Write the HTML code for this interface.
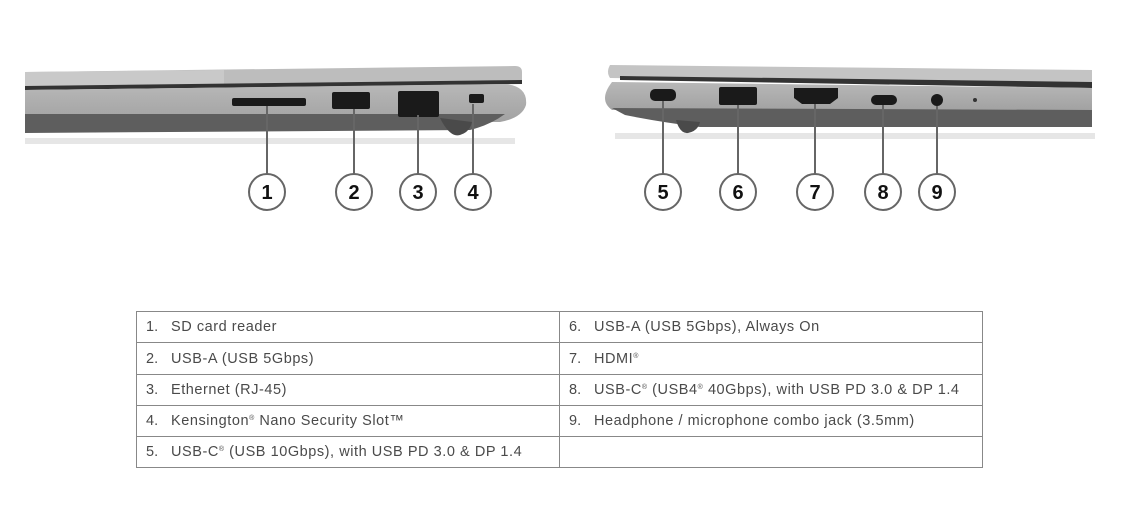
<!DOCTYPE html>
<html><head><meta charset="utf-8"><style>
body{margin:0;width:1142px;height:506px;background:#fff;position:relative;overflow:hidden;font-family:"Liberation Sans",sans-serif}
svg{position:absolute;left:0;top:0}
table{position:absolute;left:136px;top:311px;border-collapse:collapse;font-size:14.5px;color:#4a4a4a;letter-spacing:0.55px}
td{border:1px solid #888;padding:0 0 0 9px;height:30px;width:413px;white-space:nowrap}
td span{display:inline-block;width:25px;letter-spacing:0}
sup{font-size:7px;vertical-align:5px}
</style></head><body>
<svg width="1142" height="300" viewBox="0 0 1142 300">
<defs>
<linearGradient id="bodyU" x1="0" y1="0" x2="0" y2="1"><stop offset="0" stop-color="#b8b8b8"/><stop offset="1" stop-color="#a2a2a2"/></linearGradient>
</defs>
<!-- left laptop -->
<rect x="25" y="138" width="490" height="6" fill="#e6e6e6"/>
<path d="M25 72 L515 66 Q522 66 522 72 L522 80 L25 88 Z" fill="#bdbdbd"/>
<path d="M25 72 L224 70 L224 86 L25 88Z" fill="#c9c9c9"/>
<path d="M25 86 L522 80 L522 84 L25 90Z" fill="#333"/>
<path d="M25 90 L505 84 Q528 86 526 105 Q522 118 500 122 L25 122Z" fill="url(#bodyU)"/>
<path d="M25 114 L505 114 Q490 125 470 130 L25 133Z" fill="#5e5e5e"/>
<path d="M440 118 Q450 138 460 135 Q470 132 472 122Z" fill="#4a4a4a"/>
<rect x="232" y="98" width="74" height="8" rx="2" fill="#1a1a1a"/>
<rect x="332" y="92" width="38" height="17" rx="2" fill="#1a1a1a"/>
<rect x="398" y="91" width="41" height="26" rx="2" fill="#1a1a1a"/>
<rect x="469" y="94" width="15" height="9" rx="2" fill="#1a1a1a"/>
<!-- right laptop -->
<rect x="615" y="133" width="480" height="6" fill="#e6e6e6"/>
<path d="M610 65 L1092 70 L1092 84 L610 78 Q606 72 610 65Z" fill="#c4c4c4"/>
<path d="M620 76 L1092 82 L1092 88 L620 80Z" fill="#333"/>
<path d="M612 82 L1092 88 L1092 110 L612 110 Q598 100 612 82Z" fill="url(#bodyU)"/>
<path d="M612 108 L1092 110 L1092 127 L700 127 Q660 122 625 115Z" fill="#5e5e5e"/>
<path d="M676 120 Q680 134 688 133 Q698 131 700 122Z" fill="#4a4a4a"/>
<rect x="650" y="89" width="26" height="12" rx="5" fill="#1a1a1a"/>
<rect x="719" y="87" width="38" height="18" rx="2" fill="#1a1a1a"/>
<path d="M794 88 L838 88 L838 98 L830 104 L802 104 L794 98Z" fill="#1a1a1a"/>
<rect x="871" y="95" width="26" height="10" rx="5" fill="#1a1a1a"/>
<circle cx="937" cy="100" r="6" fill="#1a1a1a"/>
<circle cx="975" cy="100" r="2" fill="#333"/>
<g stroke="#666" stroke-width="2" fill="#fff">
<line x1="267" y1="106" x2="267" y2="174"/><line x1="354" y1="109" x2="354" y2="174"/>
<line x1="418" y1="115" x2="418" y2="174"/><line x1="473" y1="104" x2="473" y2="174"/>
<line x1="663" y1="101" x2="663" y2="174"/><line x1="738" y1="105" x2="738" y2="174"/>
<line x1="815" y1="104" x2="815" y2="174"/><line x1="883" y1="105" x2="883" y2="174"/>
<line x1="937" y1="106" x2="937" y2="174"/>
<circle cx="267" cy="192" r="18"/><circle cx="354" cy="192" r="18"/><circle cx="418" cy="192" r="18"/><circle cx="473" cy="192" r="18"/>
<circle cx="663" cy="192" r="18"/><circle cx="738" cy="192" r="18"/><circle cx="815" cy="192" r="18"/><circle cx="883" cy="192" r="18"/><circle cx="937" cy="192" r="18"/>
</g>
<g font-family="Liberation Sans" font-weight="bold" font-size="20" fill="#111" text-anchor="middle">
<text x="267" y="199">1</text><text x="354" y="199">2</text><text x="418" y="199">3</text><text x="473" y="199">4</text>
<text x="663" y="199">5</text><text x="738" y="199">6</text><text x="815" y="199">7</text><text x="883" y="199">8</text><text x="937" y="199">9</text>
</g>
</svg>
<table>
<tr><td style="height:29px"><span>1.</span>SD card reader</td><td><span>6.</span>USB-A (USB 5Gbps), Always On</td></tr>
<tr><td style="height:31px"><span>2.</span>USB-A (USB 5Gbps)</td><td><span>7.</span>HDMI<sup>®</sup></td></tr>
<tr><td><span>3.</span>Ethernet (RJ-45)</td><td><span>8.</span>USB-C<sup>®</sup> (USB4<sup>®</sup> 40Gbps), with USB PD 3.0 &amp; DP 1.4</td></tr>
<tr><td><span>4.</span>Kensington<sup>®</sup> Nano Security Slot™</td><td><span>9.</span>Headphone / microphone combo jack (3.5mm)</td></tr>
<tr><td><span>5.</span>USB-C<sup>®</sup> (USB 10Gbps), with USB PD 3.0 &amp; DP 1.4</td><td></td></tr>
</table>
</body></html>
